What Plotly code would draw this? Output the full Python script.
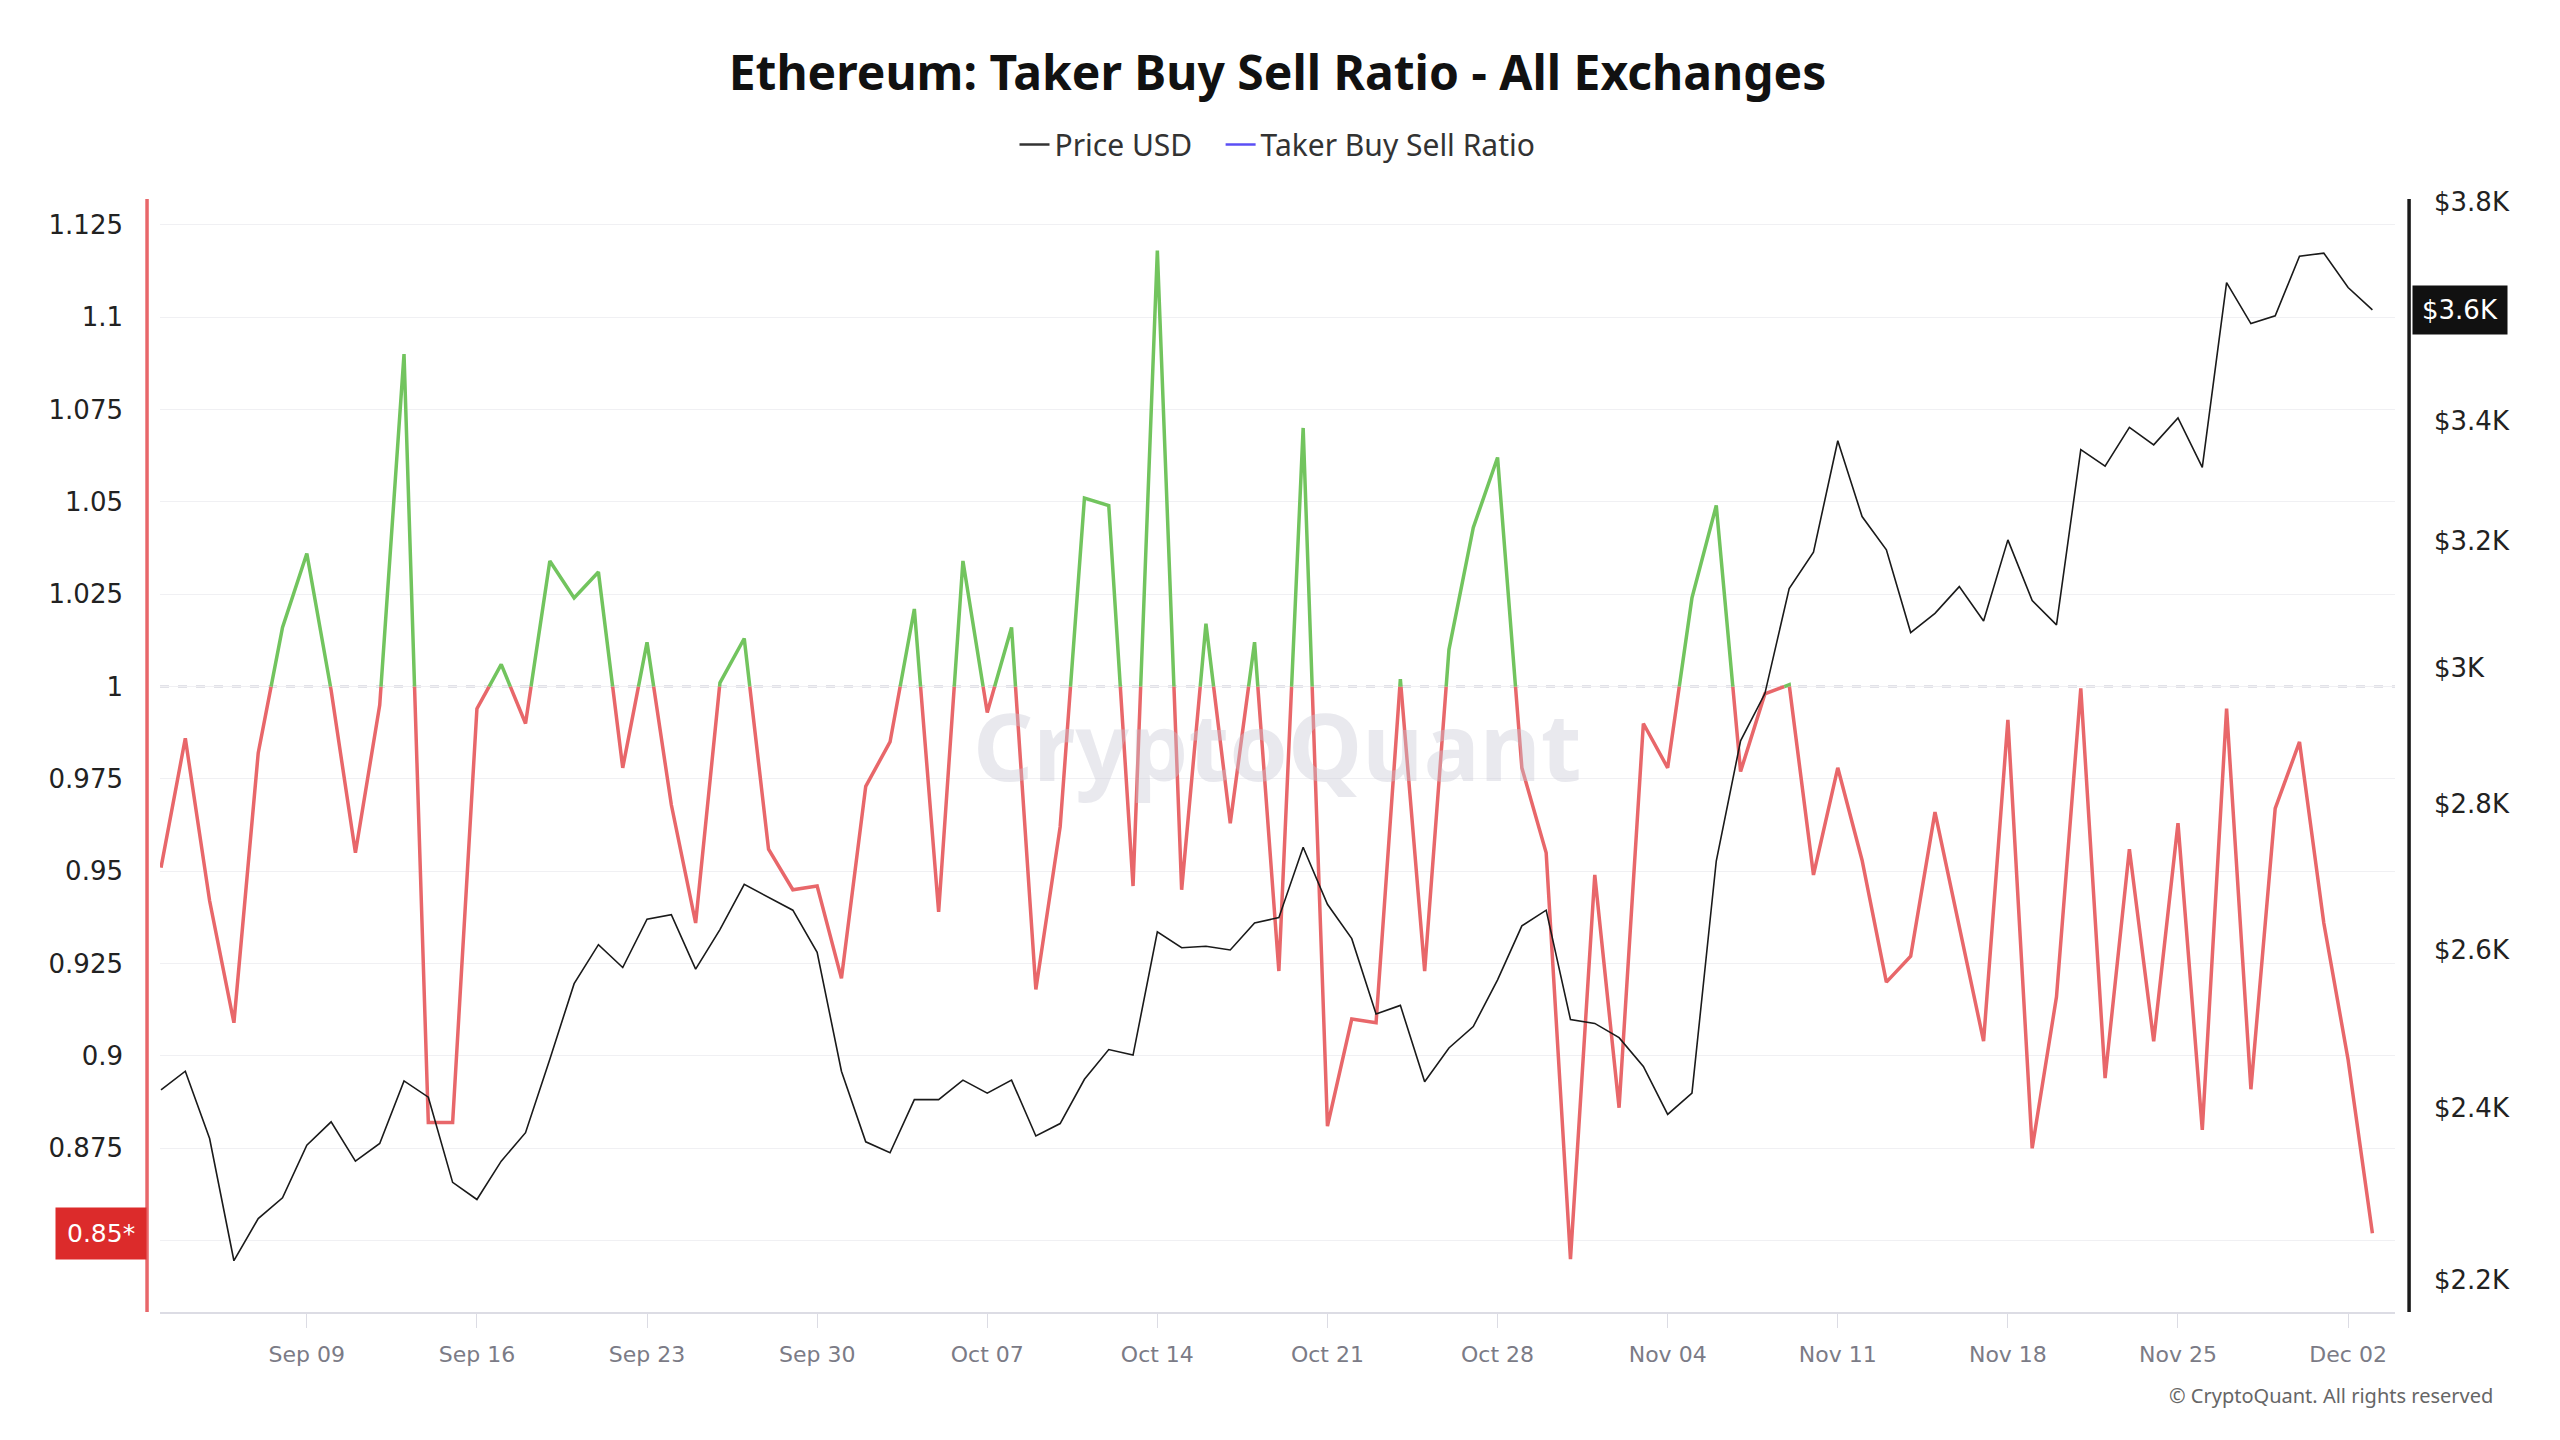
import numpy as np
import pandas as pd
import plotly.graph_objects as go

# ---------------- data ----------------
start_date = "2024-09-03"
ratio = [0.951, 0.986, 0.942, 0.909, 0.982, 1.016, 1.036, 0.999, 0.955, 0.995,
         1.090, 0.882, 0.882, 0.994, 1.006, 0.990, 1.034, 1.024, 1.031, 0.978,
         1.012, 0.968, 0.936, 1.001, 1.013, 0.956, 0.945, 0.946, 0.921, 0.973,
         0.985, 1.021, 0.939, 1.034, 0.993, 1.016, 0.918, 0.962, 1.051, 1.049,
         0.946, 1.118, 0.945, 1.017, 0.963, 1.012, 0.923, 1.070, 0.881, 0.910,
         0.909, 1.002, 0.923, 1.010, 1.043, 1.062, 0.978, 0.955, 0.845, 0.949,
         0.886, 0.990, 0.978, 1.024, 1.049, 0.977, 0.998, 1.0005, 0.949, 0.978,
         0.953, 0.920, 0.927, 0.966, 0.935, 0.904, 0.991, 0.875, 0.916, 0.9995,
         0.894, 0.956, 0.904, 0.963, 0.880, 0.994, 0.891, 0.967, 0.985, 0.936,
         0.899, 0.852]
price = [2422, 2445, 2363, 2221, 2269, 2293, 2355, 2383, 2336, 2357,
         2433, 2413, 2311, 2291, 2336, 2370, 2460, 2556, 2607, 2577,
         2641, 2647, 2575, 2627, 2688, 2670, 2653, 2597, 2445, 2359,
         2346, 2410, 2410, 2434, 2418, 2434, 2366, 2381, 2435, 2472,
         2465, 2624, 2603, 2605, 2600, 2636, 2643, 2739, 2661, 2615,
         2517, 2528, 2432, 2474, 2501, 2561, 2632, 2653, 2510, 2505,
         2487, 2451, 2392, 2418, 2720, 2891, 2961, 3123, 3181, 3366,
         3239, 3185, 3054, 3084, 3126, 3072, 3201, 3104, 3066, 3351,
         3323, 3389, 3359, 3405, 3321, 3647, 3572, 3586, 3696, 3702,
         3638, 3597]
ratio_ticks = [0.85, 0.875, 0.9, 0.925, 0.95, 0.975, 1.0, 1.025, 1.05, 1.075, 1.1, 1.125]
# 0.85 label is covered by the last-value marker in the reference
ratio_tick_text = ["", "0.875", "0.9", "0.925", "0.95", "0.975", "1", "1.025",
                   "1.05", "1.075", "1.1", "1.125"]
price_ticks = [2200, 2400, 2600, 2800, 3000, 3200, 3400, 3600, 3800]
# $3.6K label is covered by the last-value marker in the reference
price_tick_text = ["$2.2K", "$2.4K", "$2.6K", "$2.8K", "$3K", "$3.2K", "$3.4K", "", "$3.8K"]
x_tick_dates = pd.date_range("2024-09-09", "2024-12-02", freq="7D")
threshold = 1.0
last_ratio_label = "0.85*"
last_price_label = "$3.6K"

dates = list(pd.date_range(start_date, periods=len(ratio), freq="D"))

# split ratio line into green (above 1) and red (below 1) runs
runs = {"g": ([], []), "r": ([], [])}
def col(v):
    return "g" if v > threshold else "r"
for k in range(len(ratio)):
    c = col(ratio[k])
    if k == 0:
        runs[c][0].append(dates[k]); runs[c][1].append(ratio[k])
        continue
    cp = col(ratio[k - 1])
    if cp != c:
        t = (threshold - ratio[k - 1]) / (ratio[k] - ratio[k - 1])
        xc = dates[k - 1] + (dates[k] - dates[k - 1]) * t
        runs[cp][0].extend([xc, None]); runs[cp][1].extend([threshold, None])
        runs[c][0].append(xc); runs[c][1].append(threshold)
    runs[c][0].append(dates[k]); runs[c][1].append(ratio[k])

RED = "#e8676a"
GREEN = "#72c45e"
FONT = "DejaVu Sans"

fig = go.Figure()
fig.add_trace(go.Scatter(x=runs["r"][0], y=runs["r"][1], mode="lines",
                         line=dict(color=RED, width=3.5), showlegend=False,
                         connectgaps=False, yaxis="y"))
fig.add_trace(go.Scatter(x=runs["g"][0], y=runs["g"][1], mode="lines",
                         line=dict(color=GREEN, width=3.5), showlegend=False,
                         connectgaps=False, yaxis="y"))
fig.add_trace(go.Scatter(x=dates, y=price, mode="lines",
                         line=dict(color="#1a1a1a", width=1.6), showlegend=False,
                         yaxis="y2"))
# legend entries
fig.add_trace(go.Scatter(x=[None], y=[None], mode="lines", name="Price USD&nbsp;&nbsp;&nbsp;",
                         line=dict(color="#333333", width=2.5)))
fig.add_trace(go.Scatter(x=[None], y=[None], mode="lines", name="Taker Buy Sell Ratio",
                         line=dict(color="#5b4ff5", width=2.5)))

x0 = pd.Timestamp(start_date) - pd.Timedelta(hours=1)
x1 = pd.Timestamp(start_date) + pd.Timedelta(days=91.93)

fig.update_layout(
    width=2560, height=1440,
    margin=dict(l=160, r=165, t=200, b=128),
    paper_bgcolor="white", plot_bgcolor="white",
    title=dict(text="<b>Ethereum: Taker Buy Sell Ratio - All Exchanges</b>",
               x=0.5, xref="paper", xanchor="center",
               y=1 - 73 / 1440, yref="container", yanchor="middle",
               font=dict(family="Noto Sans", size=48, color="#111111")),
    legend=dict(orientation="h", x=0.5, xanchor="center", y=1.05, yanchor="middle",
                font=dict(family="Noto Sans", size=30, color="#333333"),
                itemwidth=30, bgcolor="rgba(0,0,0,0)", traceorder="normal"),
    xaxis=dict(type="date", range=[x0, x1], tickvals=list(x_tick_dates),
               tickformat="%b %d", showgrid=False, zeroline=False,
               showline=True, linecolor="#dcdce4", linewidth=2,
               ticks="outside", ticklen=14, tickcolor="#dcdce4", tickwidth=1,
               ticklabelstandoff=8,
               tickfont=dict(family=FONT, size=22, color="#7b7b86")),
    yaxis=dict(range=[0.8307, 1.1317], tickvals=ratio_ticks, ticktext=ratio_tick_text,
               showgrid=True, gridcolor="#f0f0f3", gridwidth=1, zeroline=False,
               showline=False, ticks="", ticklabelstandoff=36,
               tickfont=dict(family=FONT, size=26, color="#222222")),
    yaxis2=dict(type="log", range=[np.log10(2164), np.log10(3803)], overlaying="y",
                side="right", tickvals=price_ticks, ticktext=price_tick_text,
                showgrid=False, zeroline=False, showline=False, ticks="",
                ticklabelstandoff=38,
                tickfont=dict(family=FONT, size=26, color="#222222")),
    hovermode=False,
)

# threshold dashed line + offset axis lines
fig.add_shape(type="line", xref="paper", x0=0, x1=1, yref="y", y0=threshold, y1=threshold,
              line=dict(color="#c6c6d2", width=2, dash="dash"), layer="below")
fig.add_shape(type="line", xref="paper", x0=-0.0058, x1=-0.0058, yref="paper", y0=0, y1=1.001,
              line=dict(color="#e8676a", width=3.5))
fig.add_shape(type="line", xref="paper", x0=1.0063, x1=1.0063, yref="paper", y0=0, y1=1.001,
              line=dict(color="#1a1a1a", width=3.5))

# watermark
fig.add_annotation(text="<b>CryptoQuant</b>", xref="paper", yref="paper", x=0.5, y=0.51,
                   showarrow=False, font=dict(family="Noto Sans", size=94,
                                               color="rgba(200,200,212,0.4)"))
# last value markers
fig.add_annotation(text=last_ratio_label, xref="paper", yref="y", x=-0.0058, y=ratio[-1],
                   xanchor="right", yanchor="middle", showarrow=False,
                   bgcolor="#dc2b2b", borderpad=11,
                   font=dict(family=FONT, size=25, color="white"))
fig.add_annotation(text=last_price_label, xref="paper", yref="y2", x=1.0076,
                   y=np.log10(price[-1]),
                   xanchor="left", yanchor="middle", showarrow=False,
                   bgcolor="#111111", borderpad=9,
                   font=dict(family=FONT, size=26, color="white"))
# copyright
fig.add_annotation(text="© CryptoQuant. All rights reserved", xref="paper", yref="paper",
                   x=1.0447, y=-0.0755, xanchor="right", yanchor="middle", showarrow=False,
                   font=dict(family="Noto Sans", size=20, color="#666666"))

fig.write_html("out.html", post_script="document.body.style.margin='0';",
               config={"displayModeBar": False})
